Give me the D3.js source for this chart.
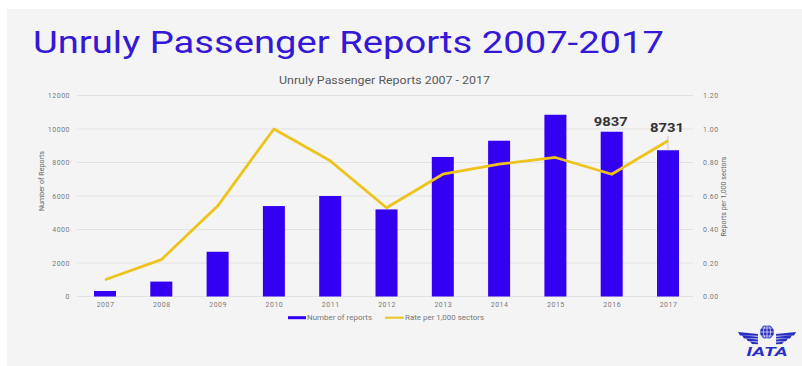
<!DOCTYPE html>
<html>
<head>
<meta charset="utf-8">
<script src="https://cdn.jsdelivr.net/npm/d3@7"></script>
<style>
  html, body { margin: 0; padding: 0; background: #fff; }
  svg { display: block; }
  text { font-family: Roboto, "Liberation Sans", sans-serif; }
</style>
</head>
<body>
<svg id="chart" width="802" height="366"></svg>
<script>
// Yearly categories
const years = ["2007","2008","2009","2010","2011","2012","2013","2014","2015","2016","2017"];
// Number of unruly passenger reports per year
const reports = [330, 890, 2670, 5400, 6000, 5200, 8330, 9300, 10850, 9837, 8731];
// Reports per 1,000 sectors
const rate = [0.10, 0.22, 0.54, 1.00, 0.81, 0.53, 0.73, 0.79, 0.83, 0.73, 0.93];
// Axis ticks
const leftTicks = [0, 2000, 4000, 6000, 8000, 10000, 12000];
const rightTicks = [0, 0.2, 0.4, 0.6, 0.8, 1.0, 1.2];
// Years whose report count is printed above the bar
const labelledYears = ["2016", "2017"];

const BAR = "#3300f2";
const LINE = "#eec31c";

const svg = d3.select("#chart");

// panel background
svg.append("rect").attr("x", 7).attr("y", 9).attr("width", 795).attr("height", 357).attr("fill", "#f4f4f4");

// main heading
svg.append("text")
  .attr("x", 33).attr("y", 52.5)
  .attr("font-size", 31).attr("fill", "#3517d6")
  .attr("textLength", 631).attr("lengthAdjust", "spacingAndGlyphs")
  .text("Unruly Passenger Reports 2007-2017");

// chart title
svg.append("text")
  .attr("x", 279).attr("y", 83.7)
  .attr("font-size", 10.4).attr("fill", "#5a5a5a")
  .attr("textLength", 211).attr("lengthAdjust", "spacingAndGlyphs")
  .text("Unruly Passenger Reports 2007 - 2017");

const x = d3.scalePoint().domain(years).range([105, 668]);
const yL = d3.scaleLinear().domain([0, 12000]).range([296.5, 95.5]);
const yR = d3.scaleLinear().domain([0, 1.2]).range([296.5, 95.5]);
const barW = 22;

// gridlines
svg.append("g").selectAll("line").data(leftTicks).join("line")
  .attr("x1", 77).attr("x2", 693)
  .attr("y1", d => yL(d)).attr("y2", d => yL(d))
  .attr("stroke", "#e2e2e2").attr("stroke-width", 1);

function styleTicks(g) {
  g.select(".domain").remove();
  g.selectAll("text")
    .attr("font-size", 7).attr("fill", "#7a7a7a")
    .attr("letter-spacing", 0.5)
    .attr("font-family", "Roboto, sans-serif");
}

// left axis
svg.append("g").attr("transform", "translate(70,0)")
  .call(d3.axisLeft(yL).tickValues(leftTicks).tickSize(0).tickPadding(0).tickFormat(d3.format("d")))
  .call(styleTicks);

// right axis
svg.append("g").attr("transform", "translate(703,0)")
  .call(d3.axisRight(yR).tickValues(rightTicks).tickSize(0).tickPadding(0).tickFormat(d3.format(".2f")))
  .call(styleTicks);

// bottom axis
svg.append("g").attr("transform", "translate(0,302)")
  .call(d3.axisBottom(x).tickSize(0).tickPadding(0))
  .call(styleTicks);

// axis titles
svg.append("text")
  .attr("transform", "translate(44,181) rotate(-90)")
  .attr("text-anchor", "middle").attr("font-size", 7.5).attr("fill", "#666")
  .attr("textLength", 60).attr("lengthAdjust", "spacingAndGlyphs")
  .text("Number of Reports");
svg.append("text")
  .attr("transform", "translate(725.5,196.5) rotate(-90)")
  .attr("text-anchor", "middle").attr("font-size", 7.5).attr("fill", "#666")
  .attr("textLength", 80).attr("lengthAdjust", "spacingAndGlyphs")
  .text("Reports per 1,000 sectors");

// bars
svg.append("g").selectAll("rect").data(years).join("rect")
  .attr("x", (d) => x(d) - barW / 2)
  .attr("width", barW)
  .attr("y", (d, i) => yL(reports[i]))
  .attr("height", (d, i) => yL(0) - yL(reports[i]))
  .attr("fill", BAR);

// leader line for the 2017 value label
const i17 = years.indexOf("2017");
svg.append("line")
  .attr("x1", x("2017")).attr("x2", x("2017"))
  .attr("y1", 136).attr("y2", yL(reports[i17]))
  .attr("stroke", "#c8c8c8").attr("stroke-width", 1);

// rate line
svg.append("path")
  .datum(rate)
  .attr("d", d3.line().x((d, i) => x(years[i])).y(d => yR(d)))
  .attr("fill", "none").attr("stroke", LINE).attr("stroke-width", 2.8)
  .attr("stroke-linejoin", "round");

// value labels
const labelY = { "2016": 126, "2017": 132.3 };
svg.append("g").selectAll("text").data(labelledYears).join("text")
  .attr("x", d => x(d) - 1)
  .attr("y", d => labelY[d])
  .attr("text-anchor", "middle")
  .attr("font-size", 12).attr("font-weight", "bold").attr("fill", "#333")
  .attr("textLength", 34).attr("lengthAdjust", "spacingAndGlyphs")
  .text(d => d3.format("d")(reports[years.indexOf(d)]));

// legend
const legend = svg.append("g");
legend.append("line").attr("x1", 288).attr("x2", 306).attr("y1", 317.7).attr("y2", 317.7)
  .attr("stroke", BAR).attr("stroke-width", 3);
legend.append("text").attr("x", 307).attr("y", 320.2).attr("font-size", 7).attr("fill", "#777")
  .attr("textLength", 65).attr("lengthAdjust", "spacingAndGlyphs")
  .text("Number of reports");
legend.append("line").attr("x1", 385).attr("x2", 404).attr("y1", 317.7).attr("y2", 317.7)
  .attr("stroke", LINE).attr("stroke-width", 2);
legend.append("text").attr("x", 405).attr("y", 320.2).attr("font-size", 7).attr("fill", "#777")
  .attr("textLength", 79).attr("lengthAdjust", "spacingAndGlyphs")
  .text("Rate per 1,000 sectors");

// IATA mark
const logo = svg.append("g").attr("fill", "#2a2fc4");
const gx = 767, gy = 332, gr = 7;
logo.append("circle").attr("cx", gx).attr("cy", gy).attr("r", gr);
const globeLines = logo.append("g").attr("stroke", "#f4f4f4").attr("stroke-width", 0.7).attr("fill", "none");
[-4, 0, 4].forEach(dy => {
  const hw = Math.sqrt(gr * gr - dy * dy);
  globeLines.append("line").attr("x1", gx - hw).attr("x2", gx + hw).attr("y1", gy + dy).attr("y2", gy + dy);
});
globeLines.append("line").attr("x1", gx).attr("x2", gx).attr("y1", gy - gr).attr("y2", gy + gr);
globeLines.append("ellipse").attr("cx", gx).attr("cy", gy).attr("rx", 3.6).attr("ry", gr);
// wings: tapered stripes on each side
[0, 1, 2, 3].forEach(k => {
  const y0 = 334 + k * 2.8;
  const outer = 29 - k * 4;
  logo.append("path")
    .attr("d", `M${gx - 9},${y0} L${gx - outer},${y0 - 2 + k * 0.4} L${gx - outer + 2},${y0 + 1.6} L${gx - 9},${y0 + 1.8} Z`);
  logo.append("path")
    .attr("d", `M${gx + 9},${y0} L${gx + outer},${y0 - 2 + k * 0.4} L${gx + outer - 2},${y0 + 1.6} L${gx + 9},${y0 + 1.8} Z`);
});
logo.append("text")
  .attr("x", gx).attr("y", 356)
  .attr("text-anchor", "middle")
  .attr("font-size", 12).attr("font-weight", "bold").attr("font-style", "italic")
  .attr("font-family", "\"Liberation Sans\", Arial, sans-serif")
  .attr("textLength", 41).attr("lengthAdjust", "spacingAndGlyphs")
  .text("IATA");
</script>
</body>
</html>
